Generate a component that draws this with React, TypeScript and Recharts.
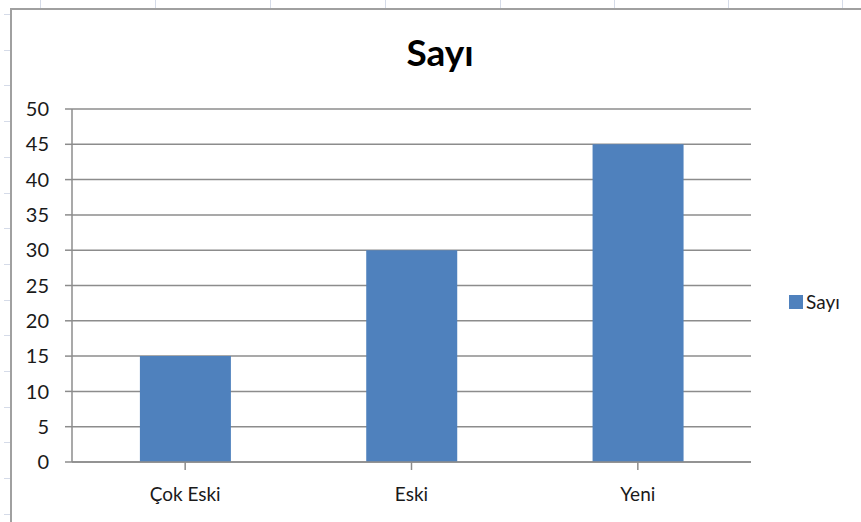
import React from "react";
import { BarChart, Bar, XAxis, YAxis, CartesianGrid, Legend } from "recharts";

const categories = ["Çok Eski", "Eski", "Yeni"];
const sayiValues = [15, 30, 45];
const yTicks = [0, 5, 10, 15, 20, 25, 30, 35, 40, 45, 50];
const seriesName = "Sayı";
const chartTitle = "Sayı";

const data = categories.map((c, i) => ({ name: c, value: sayiValues[i] }));

const FONT = "Lato, 'Open Sans', sans-serif";
const BAR_COLOR = "#4F81BD";
const GRID = "#8c8c8c";

const LegendContent = (props: any) => {
  const { payload } = props;
  return (
    <div style={{ fontFamily: FONT, fontSize: 19, lineHeight: "20px", color: "#1a1a1a" }}>
      {(payload || []).map((p: any) => (
        <div key={p.value} style={{ display: "flex", alignItems: "center" }}>
          <span
            style={{
              display: "inline-block",
              width: 14,
              height: 14,
              background: p.color,
              marginRight: 3,
            }}
          />
          <span>{p.value}</span>
        </div>
      ))}
    </div>
  );
};

export default function App() {
  const colLines = [40, 155, 270, 385, 500, 614, 728, 842];
  const rowTicks: number[] = [];
  for (let k = 0; k < 15; k++) rowTicks.push(14 + k * 35.7);
  return (
    <div
      style={{
        position: "fixed",
        left: 0,
        top: 0,
        width: 861,
        height: 522,
        background: "#ffffff",
        overflow: "hidden",
      }}
    >
      {colLines.map((x) => (
        <div
          key={"c" + x}
          style={{ position: "absolute", left: x, top: 0, width: 1, height: 8, background: "#d5dbe8" }}
        />
      ))}
      {rowTicks.map((y) => (
        <div
          key={"r" + y}
          style={{ position: "absolute", left: 4, top: Math.round(y), width: 6, height: 1, background: "#d5dbe8" }}
        />
      ))}
      <div
        style={{
          position: "absolute",
          left: 10,
          top: 8,
          width: 900,
          height: 600,
          borderLeft: "2px solid #a0a0a0",
          borderTop: "2px solid #a0a0a0",
          background: "#fff",
        }}
      />
      <div
        style={{
          position: "absolute",
          left: 12,
          top: 30,
          width: 856,
          textAlign: "center",
          fontFamily: FONT,
          fontWeight: 700,
          fontSize: 37,
          lineHeight: "44px",
          color: "#000",
        }}
      >
        {chartTitle}
      </div>
      <div style={{ position: "absolute", left: 0, top: 0 }}>
        <BarChart
          width={861}
          height={522}
          data={data}
          margin={{ top: 109, right: 110, bottom: 10, left: 0 }}
          barCategoryGap="30%"
        >
          <CartesianGrid vertical={false} stroke={GRID} strokeWidth={1.5} />
          <XAxis
            dataKey="name"
            height={30}
            axisLine={{ stroke: GRID, strokeWidth: 1.5 }}
            tickLine={{ stroke: GRID, strokeWidth: 1.5 }}
            tickSize={8}
            tickMargin={18}
            interval={0}
            tick={{ fontFamily: FONT, fontSize: 19, fill: "#1a1a1a" }}
          />
          <YAxis
            width={72}
            domain={[0, 50]}
            ticks={yTicks}
            interval={0}
            axisLine={{ stroke: GRID, strokeWidth: 1.5 }}
            tickLine={{ stroke: GRID, strokeWidth: 1.5 }}
            tickSize={7}
            tickMargin={16}
            tick={{ fontFamily: FONT, fontSize: 20, fill: "#1a1a1a" }}
          />
          <Legend
            layout="vertical"
            height={20}
            content={<LegendContent />}
            wrapperStyle={{ position: "absolute", left: 789, top: 292, width: 72 }}
          />
          <Bar dataKey="value" name={seriesName} fill={BAR_COLOR} isAnimationActive={false} />
        </BarChart>
      </div>
    </div>
  );
}
